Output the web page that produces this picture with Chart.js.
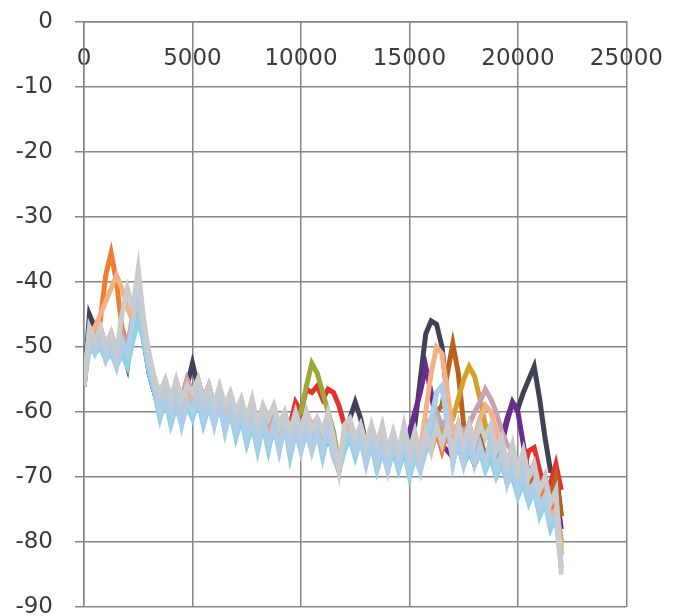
<!DOCTYPE html>
<html>
<head>
<meta charset="utf-8">
<script src="https://cdn.jsdelivr.net/npm/chart.js@4.4.1/dist/chart.umd.min.js"></script>
<style>
  html, body { margin: 0; padding: 0; background: #fff; }
  #wrap { width: 686px; height: 616px; }
</style>
</head>
<body>
<div id="wrap"><canvas id="spectrum" width="686" height="616"></canvas></div>
<script>
// frequency bins (Hz)
const freqHz = [0,250,500,750,1000,1250,1500,1750,2000,2250,
  2500,2750,3000,3250,3500,3750,4000,4250,4500,4750,
  5000,5250,5500,5750,6000,6250,6500,6750,7000,7250,
  7500,7750,8000,8250,8500,8750,9000,9250,9500,9750,
  10000,10250,10500,10750,11000,11250,11500,11750,12000,12250,
  12500,12750,13000,13250,13500,13750,14000,14250,14500,14750,
  15000,15250,15500,15750,16000,16250,16500,16750,17000,17250,
  17500,17750,18000,18250,18500,18750,19000,19250,19500,19750,
  20000,20250,20500,20750,21000,21250,21500,21750,22000];

const xStep = 5000;
const yStep = 10;

// levels (dB), one array per recording
const grayLevels = [-56,-47,-49,-47,-50,-48,-51,-45,-41,-44,
  -38,-46,-51,-55,-57,-55,-58,-55,-58,-56,
  -57,-55,-58,-56,-59,-56,-59,-57,-60,-58,
  -61,-58,-62,-59,-61,-59,-62,-60,-63,-60,
  -63,-60,-63,-61,-63,-60,-64,-69,-62,-61,
  -64,-62,-65,-62,-65,-62,-66,-63,-66,-62,
  -66,-63,-67,-63,-66,-62,-65,-62,-66,-62,
  -65,-62,-65,-62,-64,-62,-66,-64,-68,-65,
  -69,-66,-70,-68,-72,-70,-74,-72,-85];

const lightBlueLevels = [-55,-49,-51,-49,-52,-50,-53,-49,-51,-46,
  -42,-47,-53,-56,-60,-57,-61,-57,-62,-58,
  -60,-57,-61,-58,-62,-58,-63,-59,-63,-60,
  -64,-61,-65,-61,-65,-62,-66,-62,-66,-62,
  -66,-62,-66,-63,-66,-62,-67,-68,-64,-63,
  -66,-64,-68,-64,-68,-65,-69,-65,-68,-64,
  -69,-66,-69,-64,-61,-57,-56,-61,-68,-64,
  -68,-64,-68,-65,-68,-64,-69,-66,-71,-68,
  -72,-69,-73,-71,-75,-73,-77,-76,-84];

const cyanLevels = [-56,-50,-51,-50,-52,-51,-53,-51,-53,-49,
  -46,-49,-54,-57,-61,-58,-62,-59,-62,-59,
  -61,-58,-62,-59,-62,-59,-63,-60,-64,-61,
  -65,-62,-66,-62,-66,-62,-66,-62,-67,-63,
  -66,-63,-66,-63,-67,-63,-67,-69,-66,-64,
  -67,-64,-68,-65,-69,-66,-69,-66,-69,-66,
  -70,-67,-69,-66,-63,-57,-56,-62,-67,-65,
  -68,-66,-68,-66,-69,-67,-70,-68,-71,-70,
  -73,-71,-74,-72,-76,-74,-78,-76,-84];

const peachLevels = [-55,-48,-47,-45,-43,-41,-39,-41,-44,-46,
  -43,-47,-52,-55,-58,-57,-59,-57,-59,-56,
  -58,-56,-59,-57,-60,-58,-61,-59,-62,-60,
  -63,-61,-63,-61,-64,-62,-64,-61,-64,-62,
  -64,-60,-62,-61,-63,-62,-65,-67,-64,-62,
  -65,-63,-66,-64,-67,-64,-67,-65,-67,-65,
  -68,-65,-66,-60,-54,-50,-51,-57,-63,-64,
  -66,-63,-64,-61,-59,-60,-63,-66,-69,-67,
  -70,-69,-72,-71,-74,-73,-76,-75,-81];

const mauveLevels = [-56,-48,-49,-47,-50,-48,-51,-48,-50,-45,
  -40,-46,-52,-55,-58,-56,-58,-56,-58,-55,
  -57,-55,-58,-56,-59,-57,-60,-58,-61,-59,
  -62,-60,-62,-60,-63,-61,-63,-61,-64,-61,
  -63,-61,-64,-62,-64,-62,-65,-68,-64,-62,
  -65,-63,-65,-63,-66,-64,-66,-64,-67,-64,
  -66,-64,-66,-62,-61,-60,-62,-61,-63,-62,
  -63,-62,-60,-58.5,-56.5,-58,-60,-63,-65,-66,
  -69,-67,-70,-69,-72,-71,-74,-73,-82];

const goldLevels = [-56,-49,-50,-48,-51,-49,-52,-50,-52,-48,
  -43,-48,-53,-56,-59,-57,-59,-57,-59,-56,
  -58,-56,-59,-57,-60,-58,-61,-59,-62,-60,
  -63,-61,-63,-61,-64,-62,-64,-62,-64,-62,
  -64,-62,-65,-63,-65,-63,-66,-68,-65,-63,
  -66,-64,-66,-64,-67,-65,-67,-65,-67,-65,
  -67,-64,-66,-63,-65,-62,-64,-61,-61,-58,
  -55,-53,-54.5,-58,-62,-63,-66,-65,-68,-67,
  -70,-69,-72,-71,-74,-73,-76,-75,-80];

const brownLevels = [-56,-48,-50,-48,-50,-49,-52,-50,-52,-47,
  -42,-48,-53,-56,-59,-57,-59,-57,-59,-56,
  -58,-56,-59,-57,-60,-58,-61,-59,-62,-60,
  -63,-61,-63,-61,-64,-62,-64,-61,-64,-62,
  -64,-62,-64,-62,-65,-63,-66,-68,-65,-62,
  -65,-63,-66,-64,-66,-64,-67,-65,-67,-64,
  -67,-64,-66,-63,-62,-60,-59,-54,-49.5,-54,
  -62,-64,-67,-64,-67,-65,-68,-66,-69,-67,
  -70,-68,-71,-69,-72,-71,-73,-70,-76];

const orangeLevels = [-55,-48,-49,-46,-39,-35.5,-40,-47,-50,-47,
  -44,-48,-53,-56,-59,-57,-59,-57,-59,-57,
  -59,-57,-60,-58,-61,-59,-61,-59,-62,-60,
  -63,-61,-63,-61,-64,-62,-64,-62,-64,-62,
  -64,-62,-64,-62,-64,-62,-65,-68,-65,-63,
  -66,-64,-66,-64,-67,-65,-67,-65,-68,-65,
  -68,-65,-67,-64,-66,-63,-66,-63,-67,-64,
  -67,-64,-67,-64,-67,-65,-68,-66,-69,-67,
  -70,-68,-71,-70,-73,-72,-75,-74,-80];

const oliveLevels = [-56,-49,-50,-48,-51,-49,-52,-49,-51,-46,
  -41,-47,-53,-56,-59,-57,-59,-57,-59,-56,
  -58,-56,-59,-57,-60,-58,-61,-59,-62,-60,
  -63,-61,-63,-61,-64,-62,-64,-62,-64,-61,
  -60,-56,-52.5,-54,-57,-60,-63,-68,-64,-62,
  -65,-63,-66,-64,-66,-64,-67,-65,-67,-64,
  -67,-64,-66,-63,-64,-61,-63,-61,-64,-62,
  -65,-63,-65,-62,-63,-63,-66,-65,-68,-66,
  -69,-68,-71,-70,-73,-72,-75,-74,-81];

const redLevels = [-56,-48,-49,-47,-50,-48,-51,-48,-51,-46,
  -41,-47,-52,-55,-58,-56,-58,-56,-58,-55,
  -57,-55,-58,-56,-59,-57,-60,-58,-61,-59,
  -62,-60,-62,-60,-63,-61,-63,-61,-62,-58.5,
  -60,-56.5,-57,-56,-58,-56.5,-57,-59,-62,-64,
  -65,-63,-66,-64,-66,-64,-67,-65,-67,-64,
  -67,-64,-66,-63,-65,-62,-64,-61,-64,-62,
  -65,-62,-65,-62,-64,-63,-66,-65,-68,-67,
  -70,-69,-66,-65.5,-69,-72,-71,-68,-72];

const purpleLevels = [-56,-48,-49,-48,-51,-50,-52,-50,-52,-48,
  -43,-49,-54,-57,-60,-58,-60,-58,-60,-57,
  -59,-57,-60,-58,-61,-59,-62,-60,-63,-61,
  -64,-62,-64,-62,-65,-63,-65,-62,-65,-63,
  -65,-63,-65,-63,-66,-64,-66,-69,-65,-63,
  -66,-64,-67,-65,-67,-65,-68,-66,-68,-64,
  -63,-60,-57,-53,-57,-62,-65,-66,-67,-65,
  -68,-66,-68,-66,-68,-66,-68,-65,-61.5,-58.5,
  -60,-65,-70,-68,-72,-70,-74,-72,-78];

const charcoalLevels = [-56,-45,-47,-48,-51,-49,-52,-50,-53,-47,
  -41,-48,-54,-57,-60,-58,-60,-58,-60,-56,
  -52.5,-56,-60,-58,-61,-59,-62,-60,-62,-60,
  -63,-61,-64,-62,-64,-62,-64,-62,-65,-63,
  -65,-63,-65,-63,-65,-63,-66,-69,-64,-61,
  -58.5,-61,-65,-64,-66,-64,-67,-65,-67,-64,
  -64,-62,-55,-48,-46,-46.5,-50,-58,-64,-65,
  -67,-65,-68,-66,-68,-66,-68,-64,-61,-58.5,
  -59.5,-57,-55,-53,-58,-64,-69,-69,-76];

// first entry is drawn on top
const seriesList = [
  { name: 'gray', values: grayLevels, color: '#C9CBCF' },
  { name: 'light blue', values: lightBlueLevels, color: '#B0CDE8' },
  { name: 'cyan', values: cyanLevels, color: '#92D1E2' },
  { name: 'peach', values: peachLevels, color: '#F4B183' },
  { name: 'mauve', values: mauveLevels, color: '#C8A2B0' },
  { name: 'gold', values: goldLevels, color: '#D4A22A' },
  { name: 'brown', values: brownLevels, color: '#B8621B' },
  { name: 'orange', values: orangeLevels, color: '#ED7D31' },
  { name: 'olive', values: oliveLevels, color: '#9EA83A' },
  { name: 'red', values: redLevels, color: '#E0322E' },
  { name: 'purple', values: purpleLevels, color: '#6A2C8E' },
  { name: 'charcoal', values: charcoalLevels, color: '#3F4157' }
];

const gridColor = '#858585';
const labelFont = { family: 'DejaVu Sans', size: 23 };

const ctx = document.getElementById('spectrum').getContext('2d');
new Chart(ctx, {
  type: 'line',
  data: {
    datasets: seriesList.map(s => ({
      label: s.name,
      data: freqHz.map((f, i) => ({ x: f, y: s.values[i] })),
      borderColor: s.color,
      backgroundColor: s.color,
      borderWidth: 5,
      pointRadius: 0,
      tension: 0,
      fill: false
    }))
  },
  options: {
    responsive: false,
    animation: false,
    layout: { padding: { top: 22, right: 43, bottom: 9, left: 0 } },
    plugins: {
      legend: { display: false },
      tooltip: { enabled: false }
    },
    scales: {
      // x axis crosses at y = 0, labels sit just under the top line
      x: {
        type: 'linear',
        position: { y: 0 },
        min: 0,
        max: 25000,
        ticks: {
          stepSize: xStep,
          font: labelFont,
          color: '#3a3a3a',
          padding: 23,
          maxRotation: 0,
          autoSkip: false,
          callback: v => String(v)
        },
        grid: { display: true, color: gridColor, lineWidth: 1.5, drawTicks: false },
        border: { display: true, color: gridColor, width: 1.5 }
      },
      y: {
        type: 'linear',
        position: 'left',
        min: -90,
        max: 0,
        afterFit: scale => {
          scale.width = 84;
          scale.paddingTop = 0;
          scale.paddingBottom = 0;
        },
        ticks: { stepSize: yStep, font: labelFont, color: '#3a3a3a', padding: 22, callback: v => String(v) },
        grid: { display: true, color: gridColor, lineWidth: 1.5, tickLength: 9 },
        border: { display: true, color: gridColor, width: 1.5 }
      }
    }
  }
});
</script>
</body>
</html>
